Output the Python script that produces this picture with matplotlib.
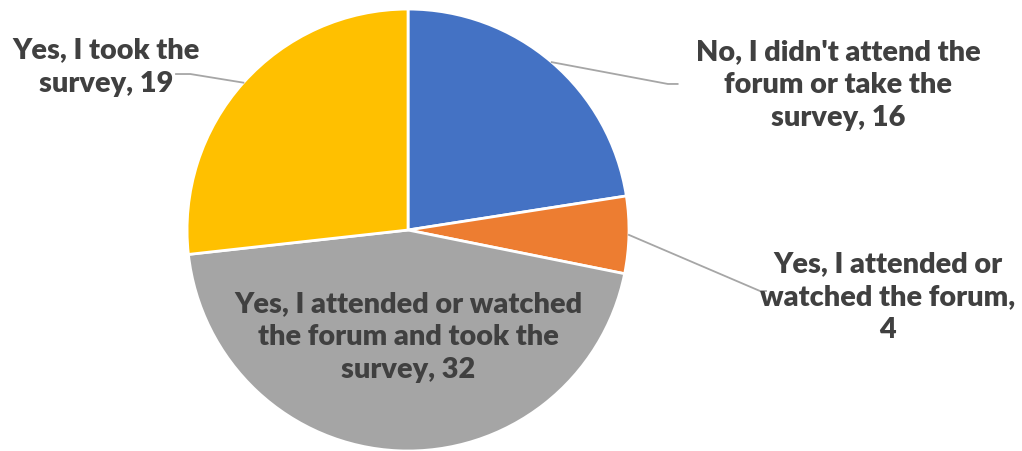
import numpy as np
import matplotlib.pyplot as plt

labels = ["No, I didn't attend the\nforum or take the\nsurvey, 16",
          "Yes, I attended or\nwatched the forum,\n4",
          "Yes, I attended or watched\nthe forum and took the\nsurvey, 32",
          "Yes, I took the\nsurvey, 19"]
values = [16, 4, 32, 19]
colors = ["#4472C4", "#ED7D31", "#A5A5A5", "#FFC000"]

# label text positions (data coords, pie radius = 1)
text_pos = [(1.946, 0.656), (2.172, -0.303), (0.0, -0.484), (-1.367, 0.738)]
# where the leader line meets the label (None = label sits inside the slice)
elbow = [(1.176, 0.661), (1.593, -0.276), None, (-0.985, 0.706)]
elbow_end = [(1.22, 0.661), (1.62, -0.276), None, (-1.05, 0.706)]

plt.rcParams['font.family'] = ['Lato', 'DejaVu Sans']

fig = plt.figure(figsize=(10.22, 4.51), dpi=100)
ax = fig.add_axes([0, 0, 1, 1])

wedges, _ = ax.pie(values, colors=colors, startangle=90, counterclock=False,
                   radius=1.0, center=(0, 0),
                   wedgeprops=dict(edgecolor="white", linewidth=2))

total = sum(values)
start = 0.0
for i, v in enumerate(values):
    mid = start + v / total * 360 / 2
    start += v / total * 360
    ang = np.deg2rad(mid)
    edge = (np.sin(ang), np.cos(ang))
    if elbow[i] is not None:
        ax.plot([edge[0], elbow[i][0], elbow_end[i][0]],
                [edge[1], elbow[i][1], elbow_end[i][1]],
                color="#A6A6A6", lw=1.3, zorder=1)
    ax.text(text_pos[i][0], text_pos[i][1], labels[i], ha="center", va="center",
            fontsize=20.8, fontweight="heavy", color="#404040",
            linespacing=1.35, zorder=3)

ax.set_xlim(-1.846, 2.778)
ax.set_ylim(-1.0, 1.041)
ax.set_aspect("equal")
ax.axis("off")

fig.savefig("out.png", dpi=100)
